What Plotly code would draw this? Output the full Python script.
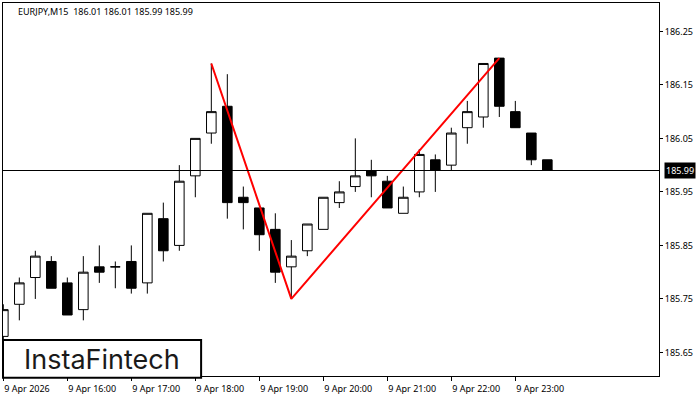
import plotly.graph_objects as go

# candle index (15-minute bars starting 9 Apr 15:00)
bars = list(range(35))
opens = [185.68, 185.74, 185.79, 185.82, 185.78, 185.73, 185.81, 185.81, 185.82, 185.78,
         185.90, 185.85, 185.98, 186.06, 186.11, 185.94, 185.92, 185.88, 185.81, 185.84,
         185.88, 185.93, 185.96, 185.99, 185.97, 185.91, 185.95, 186.01, 186.00, 186.07,
         186.09, 186.20, 186.10, 186.06, 186.01]
highs = [185.74, 185.79, 185.84, 185.83, 185.79, 185.83, 185.85, 185.82, 185.85, 185.91,
         185.93, 186.00, 186.05, 186.19, 186.17, 185.96, 185.92, 185.91, 185.86, 185.89,
         185.94, 185.97, 186.05, 186.01, 185.98, 185.96, 186.03, 186.02, 186.07, 186.12,
         186.19, 186.20, 186.12, 186.06, 186.01]
lows = [185.67, 185.71, 185.75, 185.77, 185.72, 185.71, 185.78, 185.77, 185.76, 185.76,
        185.82, 185.84, 185.94, 186.04, 185.90, 185.88, 185.84, 185.78, 185.75, 185.83,
        185.88, 185.92, 185.95, 185.94, 185.92, 185.91, 185.94, 185.95, 185.99, 186.04,
        186.07, 186.09, 186.07, 186.00, 185.99]
closes = [185.73, 185.78, 185.83, 185.77, 185.72, 185.80, 185.80, 185.81, 185.77, 185.91,
          185.84, 185.97, 186.05, 186.10, 185.93, 185.93, 185.87, 185.80, 185.83, 185.89,
          185.94, 185.95, 185.98, 185.98, 185.92, 185.94, 186.02, 185.99, 186.06, 186.10,
          186.19, 186.11, 186.07, 186.01, 185.99]

x_tick_pos = [0, 4, 8, 12, 16, 20, 24, 28, 32]
x_tick_labels = ["9 Apr 2026", "9 Apr 16:00", "9 Apr 17:00", "9 Apr 18:00", "9 Apr 19:00",
                 "9 Apr 20:00", "9 Apr 21:00", "9 Apr 22:00", "9 Apr 23:00"]
y_ticks = [185.65, 185.75, 185.85, 185.95, 186.05, 186.15, 186.25]

pattern_x = [13, 18, 31]
pattern_y = [186.19, 185.75, 186.20]

last_price = 185.99
title_text = "EURJPY,M15  186.01 186.01 185.99 185.99"
logo_text = "InstaFintech"

FONT = "Noto Sans"
FS = 9

fig = go.Figure()
fig.add_trace(go.Candlestick(
    x=bars, open=opens, high=highs, low=lows, close=closes,
    increasing=dict(line=dict(color="black", width=1), fillcolor="white"),
    decreasing=dict(line=dict(color="black", width=1), fillcolor="black"),
    whiskerwidth=0, showlegend=False, hoverinfo="skip"))
fig.add_trace(go.Scatter(
    x=pattern_x, y=pattern_y, mode="lines",
    line=dict(color="#ff0000", width=2), showlegend=False, hoverinfo="skip"))

fig.add_shape(type="line", xref="paper", x0=0, x1=1, yref="y", y0=last_price, y1=last_price,
              line=dict(color="black", width=1))

# logo box
fig.add_shape(type="rect", xref="paper", yref="paper", x0=0.0, x1=0.302, y0=-0.005, y1=0.0965,
              line=dict(color="black", width=2), fillcolor="white", layer="above")
fig.add_annotation(xref="paper", yref="paper", x=0.151, y=0.0437, text=logo_text,
                   showarrow=False, xanchor="center", yanchor="middle",
                   font=dict(family="Inter", size=27, color="#1a1a1a"))

fig.add_annotation(xref="paper", yref="paper", x=0.0194, y=0.977, text=title_text,
                   showarrow=False, xanchor="left", yanchor="middle",
                   font=dict(family=FONT, size=FS, color="black"))

fig.add_annotation(xref="paper", yref="y", x=1, y=last_price, text=str(last_price),
                   showarrow=False, xanchor="left", yanchor="middle", xshift=5,
                   bgcolor="black", borderpad=1,
                   font=dict(family=FONT, size=FS, color="white"))

fig.update_layout(
    width=700, height=400,
    margin=dict(l=3, r=41, t=3, b=24),
    paper_bgcolor="white", plot_bgcolor="white",
    boxgap=0.4, boxgroupgap=0,
    font=dict(family=FONT, size=FS, color="black"),
    xaxis=dict(range=[-0.02, 40.98], tickmode="array", tickvals=x_tick_pos, ticktext=x_tick_labels,
               ticks="outside", ticklen=4, tickcolor="black", showline=True, mirror=True,
               linecolor="black", linewidth=1, showgrid=False, zeroline=False,
               ticklabelposition="outside right", tickangle=0, automargin=False,
               ticklabelstandoff=4,
               rangeslider=dict(visible=False),
               tickfont=dict(family=FONT, size=FS, color="black")),
    yaxis=dict(side="right", range=[185.606, 186.303], tickmode="array", tickvals=y_ticks,
               tickformat=".2f", ticks="outside", ticklen=3, tickcolor="black",
               showline=True, mirror=True, linecolor="black", linewidth=1,
               showgrid=False, zeroline=False, automargin=False,
               tickfont=dict(family=FONT, size=FS, color="black")),
)

fig.write_html("out.html", config={"displayModeBar": False},
               post_script="document.body.style.margin='0px';document.body.style.overflow='hidden';")
